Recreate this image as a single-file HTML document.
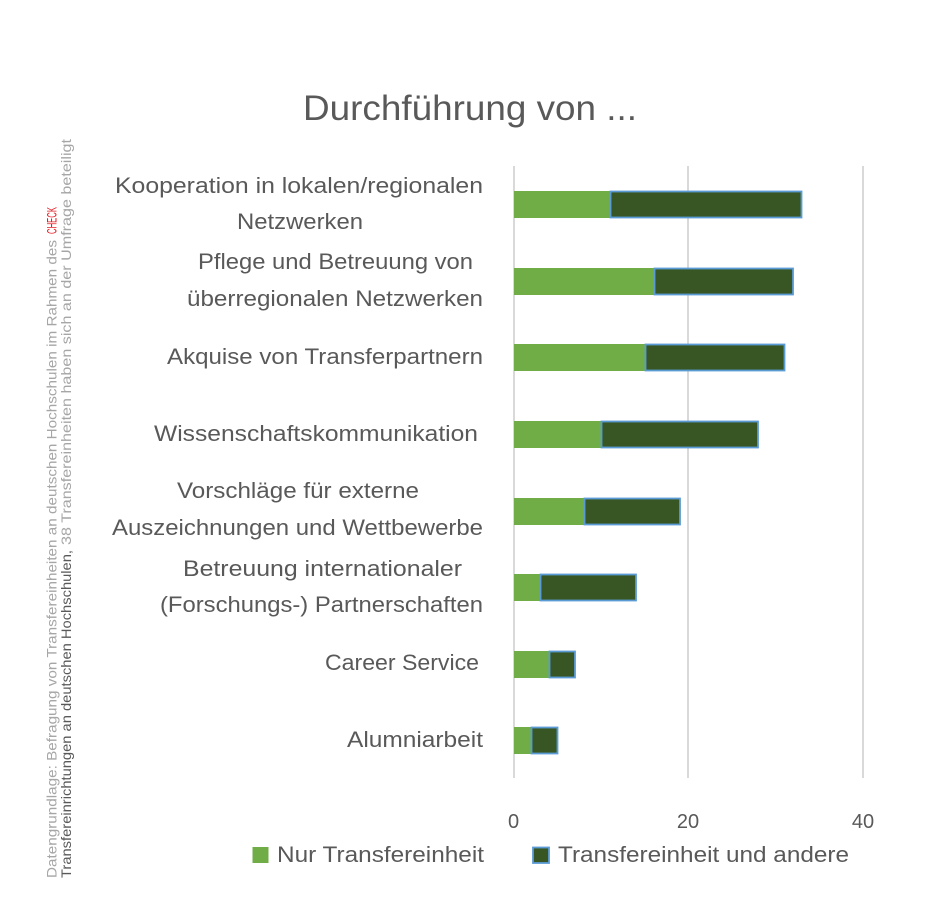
<!DOCTYPE html>
<html>
<head>
<meta charset="utf-8">
<style>
html,body{margin:0;padding:0;background:#fff;}
svg{display:block;}
text{font-family:"Liberation Sans",sans-serif;}
</style>
</head>
<body>
<svg width="939" height="924" viewBox="0 0 939 924" xmlns="http://www.w3.org/2000/svg">
<rect x="0" y="0" width="939" height="924" fill="#ffffff"/>

<!-- Title -->
<text x="303" y="120" font-size="35" fill="#595959" textLength="334" lengthAdjust="spacingAndGlyphs">Durchführung von ...</text>

<!-- Gridlines -->
<line x1="514" y1="166" x2="514" y2="778" stroke="#d9d9d9" stroke-width="2"/>
<line x1="688" y1="166" x2="688" y2="778" stroke="#d9d9d9" stroke-width="2"/>
<line x1="863" y1="166" x2="863" y2="778" stroke="#d9d9d9" stroke-width="2"/>

<!-- Bars -->
<g>
<rect x="514" y="191" width="96" height="27" fill="#70ad47"/>
<rect x="610.5" y="191.5" width="191" height="26" fill="#375623" stroke="#5b9bd5" stroke-width="1.8"/>

<rect x="514" y="268" width="140" height="27" fill="#70ad47"/>
<rect x="654.5" y="268.5" width="138.5" height="26" fill="#375623" stroke="#5b9bd5" stroke-width="1.8"/>

<rect x="514" y="344" width="131" height="27" fill="#70ad47"/>
<rect x="645.5" y="344.5" width="139" height="26" fill="#375623" stroke="#5b9bd5" stroke-width="1.8"/>

<rect x="514" y="421" width="87" height="27" fill="#70ad47"/>
<rect x="601.5" y="421.5" width="156.5" height="26" fill="#375623" stroke="#5b9bd5" stroke-width="1.8"/>

<rect x="514" y="498" width="70" height="27" fill="#70ad47"/>
<rect x="584.5" y="498.5" width="95.5" height="26" fill="#375623" stroke="#5b9bd5" stroke-width="1.8"/>

<rect x="514" y="574" width="26" height="27" fill="#70ad47"/>
<rect x="540.5" y="574.5" width="95.5" height="26" fill="#375623" stroke="#5b9bd5" stroke-width="1.8"/>

<rect x="514" y="651" width="35" height="27" fill="#70ad47"/>
<rect x="549.5" y="651.5" width="25.5" height="26" fill="#375623" stroke="#5b9bd5" stroke-width="1.8"/>

<rect x="514" y="727" width="17.5" height="27" fill="#70ad47"/>
<rect x="531.5" y="727.5" width="26" height="26" fill="#375623" stroke="#5b9bd5" stroke-width="1.8"/>
</g>

<!-- Category labels -->
<g font-size="22" fill="#595959">
<text x="115" y="193" textLength="368" lengthAdjust="spacingAndGlyphs">Kooperation in lokalen/regionalen</text>
<text x="237" y="229" textLength="126" lengthAdjust="spacingAndGlyphs">Netzwerken</text>
<text x="198" y="269" textLength="275" lengthAdjust="spacingAndGlyphs">Pflege und Betreuung von</text>
<text x="187" y="306" textLength="296" lengthAdjust="spacingAndGlyphs">überregionalen Netzwerken</text>
<text x="167" y="364" textLength="316" lengthAdjust="spacingAndGlyphs">Akquise von Transferpartnern</text>
<text x="154" y="441" textLength="324" lengthAdjust="spacingAndGlyphs">Wissenschaftskommunikation</text>
<text x="177" y="498" textLength="242" lengthAdjust="spacingAndGlyphs">Vorschläge für externe</text>
<text x="112" y="535" textLength="371" lengthAdjust="spacingAndGlyphs">Auszeichnungen und Wettbewerbe</text>
<text x="183" y="576" textLength="279" lengthAdjust="spacingAndGlyphs">Betreuung internationaler</text>
<text x="160" y="612" textLength="323" lengthAdjust="spacingAndGlyphs">(Forschungs-) Partnerschaften</text>
<text x="325" y="670" textLength="154" lengthAdjust="spacingAndGlyphs">Career Service</text>
<text x="347" y="747" textLength="136" lengthAdjust="spacingAndGlyphs">Alumniarbeit</text>
</g>

<!-- Tick labels -->
<g font-size="20" fill="#595959" text-anchor="middle">
<text x="513.5" y="828">0</text>
<text x="688" y="828">20</text>
<text x="863" y="828">40</text>
</g>

<!-- Legend -->
<rect x="252.5" y="847" width="16" height="16" fill="#70ad47"/>
<text x="277" y="862" font-size="22" fill="#595959" textLength="207" lengthAdjust="spacingAndGlyphs">Nur Transfereinheit</text>
<rect x="533" y="847.5" width="16" height="15.5" fill="#375623" stroke="#5b9bd5" stroke-width="1.8"/>
<text x="558" y="862" font-size="22" fill="#595959" textLength="291" lengthAdjust="spacingAndGlyphs">Transfereinheit und andere</text>

<!-- Rotated source text -->
<g transform="translate(56.5,878) rotate(-90)" font-size="14">
<text x="0" y="0" fill="#a6a6a6" textLength="638" lengthAdjust="spacingAndGlyphs">Datengrundlage: Befragung von Transfereinheiten an deutschen Hochschulen im Rahmen des</text>
<text x="644" y="0" fill="#e41e26" textLength="27" lengthAdjust="spacingAndGlyphs">CHECK</text>
</g>
<g transform="translate(71,878) rotate(-90)" font-size="14">
<text x="0" y="0" fill="#595959" textLength="328" lengthAdjust="spacingAndGlyphs">Transfereinrichtungen an deutschen Hochschulen,</text>
<text x="333" y="0" fill="#a6a6a6" textLength="406" lengthAdjust="spacingAndGlyphs">38 Transfereinheiten haben sich an der Umfrage beteiligt</text>
</g>
</svg>
</body>
</html>
